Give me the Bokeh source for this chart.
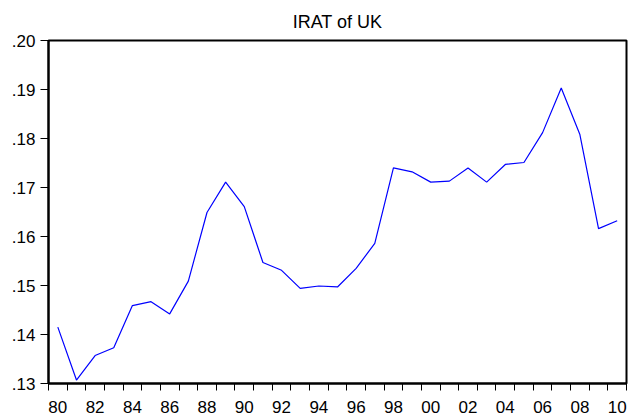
from bokeh.plotting import figure
from bokeh.models import Range1d, FixedTicker, CustomJSTickFormatter
from bokeh.embed import file_html
from bokeh.resources import INLINE

years = list(range(1980, 2011))
irat = [0.1415, 0.1307, 0.1357, 0.1373, 0.1459, 0.1467, 0.1442, 0.1509,
        0.1649, 0.1711, 0.1661, 0.1547, 0.1531, 0.1494, 0.1499, 0.1497,
        0.1535, 0.1586, 0.1740, 0.1732, 0.1711, 0.1713, 0.1740, 0.1711,
        0.1747, 0.1751, 0.1812, 0.1903, 0.1808, 0.1616, 0.1632]
x_label_years = list(range(1980, 2011, 2))
y_ticks = [0.13, 0.14, 0.15, 0.16, 0.17, 0.18, 0.19, 0.20]
title_text = "IRAT of UK"

FONT = "Liberation Sans"

p = figure(width=628, height=415, output_backend="svg", toolbar_location=None,
           x_range=Range1d(years[0] - 0.5, years[-1] + 0.5),
           y_range=Range1d(y_ticks[0], y_ticks[-1]),
           min_border_left=48, min_border_right=2, min_border_top=39,
           min_border_bottom=30)

p.title.text = title_text
p.title.align = "center"
p.title.text_font = FONT
p.title.text_font_size = "18px"
p.title.text_font_style = "normal"
p.title.text_color = "black"
p.title.standoff = 18

p.line(years, irat, line_color="#0000FF", line_width=1.2)

p.xgrid.visible = False
p.ygrid.visible = False
p.outline_line_color = "black"
p.outline_line_width = 2
p.outline_line_alpha = 1
p.background_fill_color = "white"
p.border_fill_color = "white"

xa = p.xaxis[0]
xa.ticker = FixedTicker(ticks=x_label_years,
                        minor_ticks=[y - 0.5 for y in years] + [years[-1] + 0.5])
xa.formatter = CustomJSTickFormatter(code="return String(Math.round(tick) % 100).padStart(2, '0');")
xa.major_tick_out = 0
xa.major_tick_in = 0
xa.minor_tick_out = 7
xa.minor_tick_in = 0
xa.minor_tick_line_color = "black"
xa.minor_tick_line_width = 1
xa.axis_line_color = "black"
xa.axis_line_width = 2
xa.major_label_text_font = FONT
xa.major_label_text_font_size = "17px"
xa.major_label_text_color = "black"
xa.major_label_standoff = 10

ya = p.yaxis[0]
ya.ticker = FixedTicker(ticks=y_ticks, minor_ticks=[])
ya.formatter = CustomJSTickFormatter(code="return tick.toFixed(2).replace(/^0/, '');")
ya.major_tick_out = 8
ya.major_tick_in = 0
ya.major_tick_line_color = "black"
ya.major_tick_line_width = 1
ya.minor_tick_out = 0
ya.minor_tick_in = 0
ya.axis_line_color = "black"
ya.axis_line_width = 2
ya.major_label_text_font = FONT
ya.major_label_text_font_size = "17px"
ya.major_label_text_color = "black"
ya.major_label_standoff = 5

open("out.html", "w").write(file_html(p, INLINE))
